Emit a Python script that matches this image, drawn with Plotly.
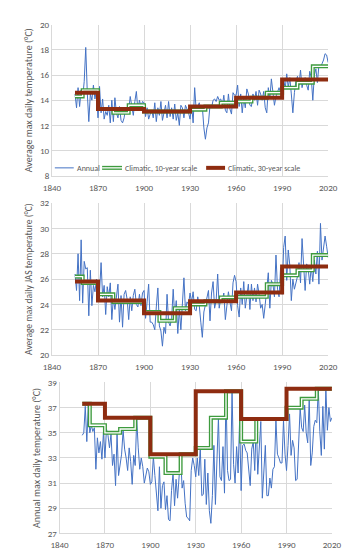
import plotly.graph_objects as go

years = list(range(1855, 2021))

# Panel 1: average max daily temperature (annual)
annual_avg = [
    14.5, 13.4, 15.0, 13.5, 14.8,
    14.2, 15.5, 18.2, 14.6, 12.3, 14.5, 14.0, 15.2, 14.1, 14.8,
    12.6, 15.1, 13.0, 14.1, 12.5, 13.1, 12.8, 13.6, 12.2, 14.0,
    12.3, 14.2, 13.0, 12.6, 13.5, 12.4, 12.2, 12.6, 13.4, 12.9,
    13.2, 14.3, 13.5, 12.8, 13.9, 14.7, 13.2, 14.0, 13.5, 13.9,
    13.8, 12.7, 13.4, 12.5, 12.9, 13.2, 12.6, 13.8, 12.3, 13.4,
    12.8, 13.9, 12.4, 13.0, 13.6, 12.6, 13.9, 12.7, 13.4, 12.5,
    13.7, 12.4, 13.0, 12.0, 13.6, 13.4, 12.6, 13.6, 13.3, 13.0,
    12.5, 13.6, 12.2, 15.0, 13.2, 13.6, 13.8, 13.2, 13.5, 11.8,
    10.9, 11.8, 12.2, 13.6, 13.4, 14.0, 14.1, 13.9, 14.3, 14.0,
    14.1, 13.5, 14.4, 13.2, 13.0, 14.5, 13.3, 12.9, 14.6, 14.4,
    14.4, 15.2, 13.5, 14.5, 13.0, 14.2, 13.4, 14.9, 14.5, 13.6,
    13.5, 14.5, 14.0, 14.7, 13.6, 14.8, 14.5, 14.0, 14.7, 13.4,
    13.0, 15.0, 14.1, 15.7, 14.5, 13.6, 14.3, 14.7, 15.0, 14.6,
    15.3, 15.7, 14.9, 16.1, 15.0, 15.8, 14.5, 13.0, 14.6, 15.5,
    15.9, 15.2, 16.4, 15.0, 15.6, 15.8, 15.2, 14.8, 16.3, 15.8,
    14.0, 16.0, 16.5, 15.4, 16.8, 16.6, 16.9, 17.2, 17.7, 17.6, 17.0,
]
dec_edges = [1855, 1860, 1870, 1880, 1890, 1900, 1910, 1920, 1930, 1940,
             1950, 1960, 1970, 1980, 1990, 2000, 2010, 2020]
tri_edges = [1855, 1870, 1900, 1930, 1960, 1990, 2020]
avg_10y = [14.3, 14.8, 13.3, 13.0, 13.6, 13.1, 13.1, 13.1, 13.25, 13.5,
           13.8, 13.9, 14.2, 14.6, 15.0, 15.4, 16.7]
avg_30y = [14.6, 13.3, 13.1, 13.5, 14.2, 15.65]

# Panel 2: average max daily JAS temperature
annual_jas = [
    26.4, 25.1, 28.0, 24.3, 29.1,
    24.1, 27.4, 26.8, 26.9, 23.1, 26.7, 23.9, 25.5, 25.0, 26.0,
    24.5, 25.0, 27.3, 24.6, 25.5, 23.2, 25.4, 24.6, 25.7, 22.8,
    24.5, 23.6, 24.9, 25.6, 22.6, 24.7, 22.2, 24.8, 25.1, 24.4,
    22.8, 24.6, 23.5, 24.7, 25.2, 24.0, 23.8, 24.8, 23.9, 24.9,
    25.1, 22.9, 24.2, 25.6, 22.6, 22.6, 22.4, 22.0, 23.8, 25.3,
    22.3, 21.9, 20.7, 22.2, 21.7, 24.8, 22.6, 22.3, 22.9, 25.2,
    23.0, 24.3, 21.7, 23.6, 22.0, 24.4, 26.1, 23.5, 24.2, 24.0,
    24.9, 24.2, 25.0, 23.6, 23.5, 24.6, 23.9, 22.6, 21.4, 23.4,
    24.0, 24.7, 25.1, 22.7, 24.9, 25.8, 23.7, 24.3, 26.4, 23.7,
    24.5, 24.3, 24.9, 22.8, 24.0, 25.0, 24.2, 23.5, 25.7, 26.3,
    25.8, 23.9, 23.0, 25.3, 24.0, 25.8, 23.7, 24.7, 25.6, 23.6,
    25.6, 24.3, 25.3, 24.2, 25.6, 24.8, 23.7, 24.0, 22.9, 24.0,
    25.4, 26.5, 23.7, 25.9, 25.6, 24.6, 27.9, 25.2, 24.6, 26.9,
    24.8, 28.5, 29.4, 25.9, 28.3, 27.1, 24.3, 26.0, 25.2, 25.8,
    26.2, 27.3, 25.7, 29.2, 26.6, 25.1, 27.2, 26.8, 25.6, 27.0,
    25.8, 27.5, 26.4, 28.2, 25.6, 30.4, 27.5, 28.5, 29.4, 28.6, 27.7,
]
jas_10y = [26.2, 25.7, 24.8, 24.2, 24.2, 23.4, 22.7, 23.7, 24.0, 24.25,
           24.55, 24.6, 24.6, 25.6, 26.3, 26.7, 27.9]
jas_30y = [25.8, 24.3, 23.3, 24.25, 24.95, 27.0]

# Panel 3: annual max daily temperature
annual_max = [
    34.8, 35.0, 37.1, 34.3, 37.2,
    35.0, 35.6, 35.1, 35.4, 32.1, 34.6, 33.4, 34.3, 32.9, 35.0,
    33.0, 35.3, 34.8, 33.8, 34.9, 32.4, 33.3, 30.8, 34.9, 31.6,
    32.3, 33.3, 35.2, 33.7, 33.0, 32.0, 33.8, 32.7, 30.9, 33.2,
    32.4, 36.1, 33.8, 32.1, 33.0, 32.3, 31.0, 31.6, 32.2, 31.9,
    30.9, 31.1, 33.1, 31.6, 30.2, 28.8, 32.3, 29.0, 30.8, 31.1,
    28.9, 30.0, 28.1, 28.0, 30.4, 31.8, 29.2, 31.3, 29.8, 31.5,
    33.2, 30.6, 31.2, 29.4, 28.3, 28.2, 28.0, 32.0, 33.0, 32.4,
    31.5, 33.0, 31.6, 33.8, 30.0, 30.1, 32.9, 29.3, 31.8, 28.8,
    27.8, 30.0, 34.0, 29.3, 33.5, 36.2, 31.5, 31.2, 33.9, 30.2,
    38.3, 32.0, 31.2, 31.3, 38.3, 32.5, 31.0, 33.9, 31.8, 36.0,
    30.4, 34.0, 34.1, 33.6, 33.4, 31.7, 30.8, 33.7, 34.3, 32.0,
    36.0, 31.7, 34.0, 35.9, 29.8, 31.9, 34.0, 30.0, 30.0, 31.4,
    30.6, 32.1, 32.3, 36.0, 33.3, 33.0, 32.6, 32.6, 36.0, 33.3,
    32.0, 34.0, 36.5, 33.2, 34.4, 33.8, 31.2, 31.3, 34.5, 37.0,
    35.4, 35.1, 37.2, 35.0, 34.2, 37.7, 32.4, 33.4, 35.5, 36.0,
    35.8, 38.5, 35.1, 33.2, 37.1, 33.7, 38.5, 35.2, 37.0, 35.9, 36.2,
]
max_10y = [37.3, 35.6, 35.0, 35.3, 36.2, 33.1, 31.8, 33.3, 33.8, 36.2,
           38.3, 34.3, 36.1, 36.1, 37.0, 37.7, 38.5]
max_30y = [37.3, 36.2, 33.3, 38.3, 36.1, 38.5]

legend_labels = ["Annual", "Climatic, 10-year scale", "Climatic, 30-year scale"]

BLUE = "#4472C4"
GREEN = "#3E9B3E"
RED = "#8E2C10"
GRID = "#D9D9D9"
TXT = "#595959"
FONT = "Carlito, Lato, Liberation Sans, sans-serif"

fig = go.Figure()

panels = [
    ("", annual_avg, avg_10y, avg_30y),
    ("2", annual_jas, jas_10y, jas_30y),
    ("3", annual_max, max_10y, max_30y),
]

for sfx, ann, d10, d30 in panels:
    xa = "x" + sfx
    ya = "y" + sfx
    fig.add_trace(go.Scatter(x=years, y=ann, mode="lines", name=legend_labels[0],
                             line=dict(color=BLUE, width=1), xaxis=xa, yaxis=ya,
                             showlegend=False))
    fig.add_trace(go.Scatter(x=dec_edges, y=d10 + [d10[-1]], mode="lines",
                             name=legend_labels[1], line_shape="hv",
                             line=dict(color=GREEN, width=4), xaxis=xa, yaxis=ya,
                             showlegend=False))
    fig.add_trace(go.Scatter(x=dec_edges, y=d10 + [d10[-1]], mode="lines",
                             line_shape="hv", hoverinfo="skip",
                             line=dict(color="white", width=1.3), xaxis=xa, yaxis=ya,
                             showlegend=False))
    fig.add_trace(go.Scatter(x=tri_edges, y=d30 + [d30[-1]], mode="lines",
                             name=legend_labels[2], line_shape="hv",
                             line=dict(color=RED, width=4), xaxis=xa, yaxis=ya,
                             showlegend=False))

W, H = 350, 550
def px_x(a, b):
    return [a / W, b / W]
def px_y(top, bot):
    return [1 - bot / H, 1 - top / H]

# manual legend inside the first panel (pixel positions)
leg_y = 1 - 157 / H
shapes = []
annotations = []
samples = [
    (40, 60, [(BLUE, 1)]),
    (90, 111, [(GREEN, 4), ("white", 1.3)]),
    (200, 220, [(RED, 4)]),
]
text_x = [61, 112, 221]
for (x0, x1, layers), tx, lab in zip(samples, text_x, legend_labels):
    for col, wd in layers:
        shapes.append(dict(type="line", xref="paper", yref="paper",
                           x0=x0 / W, x1=x1 / W, y0=leg_y, y1=leg_y,
                           line=dict(color=col, width=wd)))
    annotations.append(dict(text=lab, xref="paper", yref="paper", x=tx / W, y=leg_y,
                            xanchor="left", yanchor="middle", showarrow=False,
                            font=dict(size=8, color=TXT, family=FONT)))

axis_common = dict(showgrid=True, gridcolor=GRID, gridwidth=1, zeroline=False,
                   tickfont=dict(size=9, color=TXT, family=FONT), ticks="",
                   showline=True, linecolor=GRID, mirror=False)

xa_common = dict(axis_common, range=[1840, 2020], tickmode="array",
                 tickvals=[1840, 1870, 1900, 1930, 1960, 1990, 2020],
                 ticklabelstandoff=3)

fig.update_layout(
    width=W, height=H,
    margin=dict(l=0, r=0, t=0, b=0),
    paper_bgcolor="white", plot_bgcolor="white",
    font=dict(family=FONT, color=TXT, size=9),
    xaxis=dict(xa_common, domain=px_x(37, 329), anchor="y"),
    yaxis=dict(axis_common, domain=px_y(11, 165), range=[8, 20], dtick=2, tick0=8,
               anchor="x",
               title=dict(text="Average max daily temperature (°C)", standoff=5,
                          font=dict(size=10, color=TXT))),
    xaxis2=dict(xa_common, domain=px_x(37, 329), anchor="y2"),
    yaxis2=dict(axis_common, domain=px_y(193, 348), range=[20, 32], dtick=2, tick0=20,
                anchor="x2",
                title=dict(text="Average max daily JAS temperature (°C)", standoff=5,
                           font=dict(size=9.5, color=TXT))),
    xaxis3=dict(xa_common, domain=px_x(45, 333), anchor="y3"),
    yaxis3=dict(axis_common, domain=px_y(376, 530), range=[27, 39], dtick=2, tick0=27,
                anchor="x3",
                title=dict(text="Annual max daily temperature (°C)", standoff=5,
                           font=dict(size=10, color=TXT))),
    shapes=shapes,
    annotations=annotations,
    showlegend=False,
)

fig.write_html("out.html")
